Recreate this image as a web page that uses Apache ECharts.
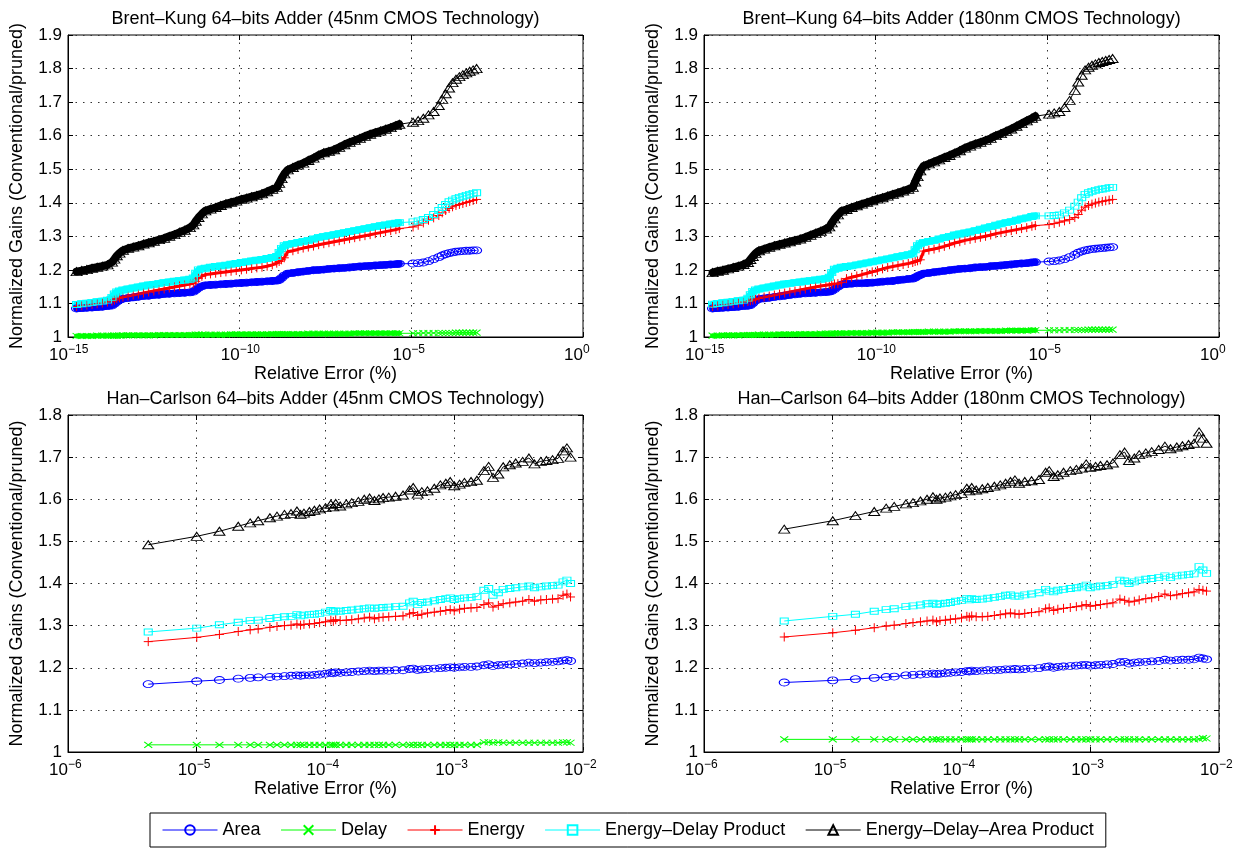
<!DOCTYPE html>
<html><head><meta charset="utf-8">
<script src="https://cdn.jsdelivr.net/npm/echarts@6/dist/echarts.min.js"></script>
<style>html,body{margin:0;padding:0;background:#fff}#c{width:1237px;height:850px}</style>
</head><body><div id="c"></div>
<script>
// ---------------- DATA ----------------
const seriesNames = ['Area', 'Delay', 'Energy', 'Energy\u2013Delay Product', 'Energy\u2013Delay\u2013Area Product'];
const panelTitles = [
  'Brent\u2013Kung 64\u2013bits Adder (45nm CMOS Technology)',
  'Brent\u2013Kung 64\u2013bits Adder (180nm CMOS Technology)',
  'Han\u2013Carlson 64\u2013bits Adder (45nm CMOS Technology)',
  'Han\u2013Carlson 64\u2013bits Adder (180nm CMOS Technology)'
];
const yAxisName = 'Normalized Gains (Conventional/pruned)';
const xAxisName = 'Relative Error (%)';

// Brent-Kung: log10 of relative error (%)
const bkErrLog10 = [-14.75,-14.6,-14.45,-14.3,-14.15,-14.0,-13.85,-13.72,-13.65,-13.58,
 -13.5,-13.4,-13.25,-13.1,-12.95,-12.8,-12.65,-12.5,-12.35,-12.2,
 -12.05,-11.9,-11.75,-11.6,-11.45,-11.35,-11.28,-11.2,-11.1,-11.0,
 -10.85,-10.7,-10.55,-10.4,-10.25,-10.1,-9.95,-9.8,-9.65,-9.5,
 -9.35,-9.2,-9.05,-8.92,-8.85,-8.78,-8.7,-8.6,-8.45,-8.3,
 -8.15,-8.0,-7.85,-7.7,-7.55,-7.4,-7.25,-7.1,-6.95,-6.8,
 -6.65,-6.5,-6.35,-6.2,-6.05,-5.9,-5.75,-5.6,-5.45,-5.35,
 -4.95,-4.8,-4.65,-4.5,-4.35,-4.2,-4.1,-4.0,-3.9,-3.8,
 -3.7,-3.6,-3.5,-3.4,-3.3,-3.2,-3.1];

const bk45Area = [1.085,1.086,1.087,1.088,1.089,1.090,1.092,1.094,1.099,1.105,
 1.110,1.114,1.116,1.118,1.120,1.122,1.123,1.125,1.126,1.128,
 1.129,1.130,1.131,1.132,1.133,1.135,1.140,1.146,1.151,1.154,
 1.155,1.156,1.157,1.158,1.159,1.160,1.161,1.162,1.163,1.164,
 1.165,1.166,1.167,1.168,1.170,1.176,1.183,1.189,1.191,1.193,
 1.195,1.197,1.199,1.200,1.201,1.203,1.204,1.205,1.206,1.207,
 1.209,1.210,1.211,1.212,1.213,1.214,1.215,1.216,1.217,1.218,
 1.219,1.220,1.222,1.226,1.232,1.238,1.243,1.247,1.250,1.252,
 1.254,1.255,1.256,1.257,1.257,1.258,1.258];
const bk45Delay = [1.003,1.003,1.003,1.003,1.004,1.004,1.004,1.004,1.004,1.004,
 1.004,1.005,1.005,1.005,1.005,1.005,1.005,1.005,1.006,1.006,
 1.006,1.006,1.006,1.006,1.006,1.006,1.007,1.007,1.007,1.007,
 1.007,1.007,1.007,1.007,1.008,1.008,1.008,1.008,1.008,1.008,
 1.008,1.008,1.009,1.009,1.009,1.009,1.009,1.009,1.009,1.009,
 1.009,1.010,1.010,1.010,1.010,1.010,1.010,1.010,1.010,1.010,
 1.011,1.011,1.011,1.011,1.011,1.011,1.011,1.011,1.011,1.011,
 1.011,1.011,1.012,1.012,1.012,1.012,1.012,1.012,1.012,1.012,
 1.013,1.013,1.013,1.013,1.013,1.013,1.013];
const bk45Energy = [1.091,1.093,1.095,1.097,1.099,1.101,1.104,1.107,1.110,1.114,
 1.117,1.119,1.122,1.125,1.128,1.131,1.134,1.137,1.140,1.143,
 1.146,1.149,1.152,1.155,1.158,1.160,1.166,1.175,1.181,1.186,
 1.188,1.190,1.192,1.194,1.196,1.198,1.200,1.202,1.204,1.206,
 1.208,1.211,1.215,1.220,1.225,1.230,1.236,1.254,1.257,1.261,
 1.265,1.268,1.271,1.275,1.278,1.281,1.284,1.287,1.290,1.293,
 1.296,1.299,1.302,1.305,1.308,1.311,1.314,1.317,1.320,1.323,
 1.328,1.333,1.340,1.348,1.355,1.362,1.370,1.377,1.383,1.388,
 1.392,1.395,1.398,1.401,1.404,1.407,1.410];
const bk45EDP = [1.097,1.099,1.101,1.103,1.105,1.107,1.110,1.118,1.128,1.134,
 1.137,1.140,1.143,1.146,1.149,1.152,1.155,1.157,1.160,1.162,
 1.164,1.166,1.168,1.170,1.172,1.176,1.190,1.200,1.203,1.205,
 1.208,1.210,1.212,1.214,1.217,1.219,1.222,1.224,1.227,1.229,
 1.231,1.234,1.237,1.240,1.252,1.264,1.272,1.276,1.279,1.282,
 1.285,1.288,1.292,1.297,1.300,1.302,1.305,1.308,1.311,1.314,
 1.317,1.320,1.323,1.326,1.329,1.332,1.334,1.337,1.339,1.341,
 1.343,1.346,1.350,1.356,1.365,1.377,1.386,1.395,1.403,1.408,
 1.412,1.416,1.419,1.422,1.425,1.428,1.430];
const bk45EDAP = [1.195,1.198,1.201,1.205,1.208,1.211,1.215,1.223,1.232,1.242,
 1.250,1.258,1.264,1.268,1.272,1.277,1.281,1.285,1.290,1.294,
 1.300,1.305,1.312,1.318,1.326,1.334,1.345,1.356,1.367,1.376,
 1.381,1.386,1.392,1.397,1.401,1.405,1.410,1.414,1.418,1.422,
 1.427,1.433,1.440,1.446,1.458,1.472,1.486,1.498,1.505,1.512,
 1.518,1.526,1.533,1.542,1.549,1.553,1.558,1.565,1.573,1.580,
 1.586,1.592,1.598,1.604,1.609,1.614,1.619,1.624,1.630,1.634,
 1.640,1.645,1.652,1.662,1.672,1.690,1.708,1.725,1.742,1.758,
 1.768,1.776,1.782,1.787,1.792,1.796,1.800];

const bk180Area = [1.085,1.086,1.087,1.088,1.089,1.090,1.092,1.093,1.095,1.101,
 1.108,1.113,1.115,1.117,1.119,1.121,1.123,1.125,1.127,1.129,
 1.130,1.131,1.132,1.133,1.134,1.135,1.137,1.142,1.150,1.156,
 1.158,1.159,1.160,1.160,1.161,1.162,1.163,1.165,1.166,1.167,
 1.169,1.171,1.173,1.174,1.177,1.181,1.185,1.189,1.191,1.193,
 1.195,1.197,1.199,1.201,1.203,1.204,1.205,1.207,1.208,1.209,
 1.211,1.212,1.213,1.215,1.216,1.218,1.219,1.220,1.222,1.223,
 1.225,1.226,1.228,1.232,1.238,1.245,1.251,1.255,1.258,1.260,
 1.262,1.263,1.264,1.265,1.266,1.267,1.268];
const bk180Delay = [1.004,1.004,1.005,1.005,1.005,1.005,1.006,1.006,1.006,1.006,
 1.006,1.007,1.007,1.007,1.007,1.008,1.008,1.008,1.008,1.009,
 1.009,1.009,1.009,1.010,1.010,1.010,1.010,1.011,1.011,1.011,
 1.011,1.012,1.012,1.012,1.012,1.013,1.013,1.013,1.013,1.014,
 1.014,1.014,1.014,1.015,1.015,1.015,1.015,1.015,1.016,1.016,
 1.016,1.016,1.016,1.017,1.017,1.017,1.017,1.017,1.018,1.018,
 1.018,1.018,1.018,1.019,1.019,1.019,1.019,1.019,1.020,1.020,
 1.020,1.020,1.020,1.021,1.021,1.021,1.021,1.021,1.021,1.022,
 1.022,1.022,1.022,1.022,1.022,1.022,1.022];
const bk180Energy = [1.091,1.093,1.095,1.097,1.099,1.101,1.104,1.106,1.108,1.110,
 1.113,1.116,1.119,1.122,1.125,1.128,1.131,1.134,1.137,1.140,
 1.143,1.146,1.149,1.152,1.154,1.156,1.157,1.158,1.159,1.163,
 1.174,1.178,1.182,1.186,1.190,1.194,1.198,1.203,1.207,1.210,
 1.213,1.216,1.219,1.222,1.225,1.227,1.230,1.256,1.259,1.262,
 1.266,1.270,1.275,1.280,1.284,1.288,1.291,1.294,1.297,1.300,
 1.304,1.308,1.311,1.314,1.317,1.320,1.323,1.326,1.330,1.332,
 1.335,1.338,1.342,1.346,1.350,1.356,1.365,1.378,1.387,1.392,
 1.396,1.399,1.402,1.404,1.406,1.408,1.410];
const bk180EDP = [1.098,1.100,1.102,1.104,1.106,1.108,1.110,1.116,1.126,1.136,
 1.140,1.143,1.146,1.149,1.152,1.155,1.158,1.160,1.162,1.164,
 1.166,1.168,1.170,1.172,1.174,1.178,1.192,1.202,1.205,1.208,
 1.210,1.212,1.215,1.218,1.221,1.224,1.227,1.230,1.233,1.236,
 1.239,1.242,1.245,1.248,1.260,1.272,1.278,1.282,1.285,1.288,
 1.292,1.296,1.300,1.304,1.307,1.310,1.313,1.317,1.321,1.325,
 1.329,1.333,1.337,1.341,1.344,1.348,1.352,1.355,1.359,1.361,
 1.361,1.362,1.364,1.370,1.378,1.390,1.402,1.415,1.425,1.430,
 1.434,1.437,1.439,1.441,1.443,1.445,1.446];
const bk180EDAP = [1.192,1.196,1.199,1.203,1.207,1.211,1.216,1.222,1.231,1.240,
 1.249,1.257,1.262,1.267,1.272,1.276,1.280,1.284,1.288,1.292,
 1.297,1.303,1.309,1.315,1.322,1.328,1.340,1.352,1.364,1.375,
 1.380,1.386,1.391,1.396,1.401,1.406,1.411,1.415,1.420,1.425,
 1.430,1.435,1.440,1.446,1.462,1.478,1.495,1.510,1.516,1.522,
 1.528,1.535,1.541,1.548,1.555,1.563,1.569,1.575,1.580,1.586,
 1.592,1.600,1.606,1.613,1.620,1.628,1.636,1.644,1.652,1.658,
 1.664,1.668,1.672,1.684,1.705,1.735,1.760,1.780,1.796,1.804,
 1.810,1.814,1.818,1.821,1.824,1.827,1.830];

// Han-Carlson: relative error (%)
const hcErr = [4.2e-6,1.0e-5,1.5e-5,2.1e-5,2.6e-5,3.0e-5,3.7e-5,4.2e-5,4.8e-5,5.4e-5,
 6.0e-5,6.4e-5,6.8e-5,7.5e-5,8.2e-5,9.0e-5,1.0e-4,1.1e-4,1.15e-4,1.2e-4,
 1.3e-4,1.45e-4,1.6e-4,1.8e-4,2.0e-4,2.2e-4,2.4e-4,2.6e-4,2.8e-4,3.1e-4,
 3.5e-4,4.0e-4,4.5e-4,4.8e-4,5.2e-4,5.6e-4,6.2e-4,7.0e-4,7.8e-4,8.6e-4,
 9.3e-4,1.0e-3,1.1e-3,1.2e-3,1.35e-3,1.5e-3,1.7e-3,1.85e-3,2.0e-3,2.2e-3,
 2.4e-3,2.7e-3,3.0e-3,3.4e-3,3.8e-3,4.2e-3,4.7e-3,5.2e-3,5.8e-3,6.4e-3,
 7.0e-3,7.5e-3,8.0e-3];

const hc45Area = [1.161,1.168,1.171,1.174,1.176,1.177,1.178,1.179,1.180,1.181,
 1.182,1.181,1.182,1.182,1.183,1.184,1.186,1.188,1.187,1.189,
 1.188,1.189,1.190,1.191,1.192,1.193,1.192,1.193,1.193,1.193,
 1.194,1.194,1.197,1.198,1.195,1.196,1.197,1.198,1.199,1.200,
 1.201,1.200,1.201,1.202,1.202,1.203,1.206,1.208,1.204,1.206,
 1.207,1.208,1.209,1.210,1.212,1.211,1.212,1.213,1.214,1.215,
 1.217,1.218,1.216];
const hc45Delay = [1.017,1.017,1.017,1.017,1.017,1.017,1.017,1.017,1.017,1.017,
 1.017,1.017,1.017,1.017,1.017,1.017,1.017,1.017,1.017,1.017,
 1.017,1.017,1.017,1.017,1.017,1.017,1.017,1.017,1.017,1.017,
 1.017,1.017,1.017,1.017,1.017,1.017,1.017,1.017,1.017,1.017,
 1.017,1.017,1.017,1.017,1.017,1.017,1.023,1.023,1.022,1.023,
 1.022,1.022,1.022,1.022,1.022,1.022,1.022,1.022,1.022,1.022,
 1.023,1.023,1.022];
const hc45Energy = [1.262,1.272,1.279,1.286,1.290,1.292,1.296,1.298,1.300,1.301,
 1.304,1.301,1.303,1.304,1.305,1.307,1.309,1.313,1.310,1.314,
 1.312,1.313,1.314,1.316,1.318,1.320,1.316,1.319,1.320,1.321,
 1.322,1.323,1.328,1.331,1.324,1.327,1.330,1.332,1.334,1.336,
 1.338,1.335,1.339,1.341,1.342,1.343,1.350,1.354,1.344,1.348,
 1.352,1.354,1.356,1.358,1.362,1.358,1.361,1.362,1.363,1.364,
 1.372,1.375,1.368];
const hc45EDP = [1.285,1.294,1.302,1.308,1.312,1.313,1.317,1.319,1.321,1.322,
 1.326,1.323,1.325,1.326,1.327,1.329,1.332,1.336,1.333,1.335,
 1.334,1.336,1.337,1.339,1.340,1.342,1.341,1.342,1.343,1.344,
 1.345,1.346,1.354,1.358,1.350,1.355,1.356,1.359,1.362,1.364,
 1.366,1.362,1.364,1.366,1.367,1.369,1.384,1.388,1.372,1.378,
 1.386,1.388,1.390,1.392,1.394,1.390,1.392,1.394,1.395,1.396,
 1.404,1.408,1.400];
const hc45EDAP = [1.492,1.512,1.524,1.536,1.544,1.549,1.556,1.560,1.564,1.566,
 1.572,1.564,1.567,1.571,1.574,1.577,1.580,1.588,1.582,1.590,
 1.584,1.589,1.592,1.595,1.600,1.603,1.597,1.601,1.604,1.605,
 1.607,1.610,1.622,1.628,1.612,1.618,1.620,1.626,1.634,1.638,
 1.642,1.632,1.636,1.640,1.642,1.645,1.668,1.678,1.652,1.660,
 1.677,1.682,1.686,1.690,1.698,1.684,1.690,1.692,1.694,1.697,
 1.715,1.722,1.700];

const hc180Area = [1.165,1.170,1.173,1.176,1.178,1.179,1.182,1.183,1.184,1.185,
 1.186,1.185,1.186,1.187,1.188,1.189,1.190,1.192,1.191,1.193,
 1.192,1.193,1.194,1.194,1.195,1.196,1.196,1.197,1.196,1.197,
 1.198,1.199,1.202,1.203,1.200,1.202,1.203,1.204,1.205,1.206,
 1.207,1.205,1.206,1.207,1.208,1.209,1.213,1.214,1.210,1.212,
 1.213,1.214,1.215,1.216,1.219,1.217,1.218,1.219,1.219,1.220,
 1.224,1.222,1.220];
const hc180Delay = [1.030,1.030,1.030,1.030,1.030,1.030,1.030,1.030,1.030,1.030,
 1.030,1.030,1.030,1.030,1.030,1.030,1.030,1.030,1.030,1.030,
 1.030,1.030,1.030,1.030,1.030,1.030,1.030,1.030,1.030,1.030,
 1.030,1.030,1.030,1.030,1.030,1.030,1.030,1.030,1.030,1.030,
 1.030,1.030,1.030,1.030,1.030,1.030,1.030,1.030,1.030,1.030,
 1.030,1.030,1.030,1.030,1.030,1.030,1.030,1.030,1.030,1.030,
 1.031,1.033,1.032];
const hc180Energy = [1.273,1.283,1.289,1.295,1.299,1.301,1.305,1.307,1.309,1.311,
 1.313,1.309,1.312,1.313,1.315,1.316,1.318,1.322,1.320,1.323,
 1.321,1.321,1.322,1.324,1.326,1.328,1.330,1.328,1.327,1.329,
 1.331,1.333,1.340,1.342,1.336,1.339,1.341,1.343,1.345,1.347,
 1.350,1.346,1.348,1.350,1.352,1.354,1.363,1.360,1.356,1.358,
 1.361,1.364,1.366,1.369,1.375,1.371,1.373,1.376,1.378,1.380,
 1.386,1.384,1.382];
const hc180EDP = [1.311,1.322,1.327,1.334,1.338,1.340,1.345,1.347,1.349,1.352,
 1.353,1.350,1.352,1.353,1.355,1.358,1.360,1.364,1.361,1.364,
 1.362,1.363,1.365,1.367,1.369,1.372,1.373,1.370,1.370,1.373,
 1.375,1.378,1.386,1.382,1.380,1.384,1.386,1.388,1.390,1.392,
 1.396,1.390,1.392,1.394,1.395,1.398,1.408,1.406,1.400,1.404,
 1.408,1.410,1.412,1.414,1.418,1.414,1.418,1.420,1.421,1.423,
 1.440,1.432,1.424];
const hc180EDAP = [1.529,1.549,1.561,1.571,1.579,1.583,1.589,1.592,1.596,1.600,
 1.606,1.600,1.603,1.605,1.608,1.611,1.614,1.626,1.620,1.628,
 1.622,1.625,1.628,1.631,1.634,1.638,1.642,1.646,1.638,1.642,
 1.644,1.647,1.664,1.668,1.654,1.658,1.664,1.668,1.671,1.674,
 1.684,1.676,1.678,1.680,1.682,1.686,1.706,1.712,1.692,1.698,
 1.706,1.710,1.713,1.718,1.726,1.720,1.724,1.727,1.730,1.733,
 1.760,1.745,1.733];

// minor grid positions of the Han-Carlson log axes
const minorDigits = [2,3,4,5,6,7,8,9];
const hcDecades = [1e-6,1e-5,1e-4,1e-3];

// ---------------- BUILD ----------------
const FONT = '"Liberation Sans", Arial, Helvetica, sans-serif';
const bkErr = bkErrLog10.map(e => Math.pow(10, e));
const BK_DENSE_END = 70; // points before the sparse 1e-5 gap are densely packed
const panels = [
  {x: bkErr, ys: [bk45Area, bk45Delay, bk45Energy, bk45EDP, bk45EDAP], xMin: 1e-15, xMax: 1, logBase: 1e5, yMax: 1.9, minor: false, dense: BK_DENSE_END},
  {x: bkErr, ys: [bk180Area, bk180Delay, bk180Energy, bk180EDP, bk180EDAP], xMin: 1e-15, xMax: 1, logBase: 1e5, yMax: 1.9, minor: false, dense: BK_DENSE_END},
  {x: hcErr, ys: [hc45Area, hc45Delay, hc45Energy, hc45EDP, hc45EDAP], xMin: 1e-6, xMax: 1e-2, logBase: 10, yMax: 1.8, minor: true, dense: 0},
  {x: hcErr, ys: [hc180Area, hc180Delay, hc180Energy, hc180EDP, hc180EDAP], xMin: 1e-6, xMax: 1e-2, logBase: 10, yMax: 1.8, minor: true, dense: 0}
];
const boxes = [
  {left: 68, top: 35, width: 515, height: 302},
  {left: 704, top: 35, width: 515, height: 302},
  {left: 68, top: 415, width: 515, height: 337},
  {left: 704, top: 415, width: 515, height: 337}
];
const styles = [
  {color: '#0000ff', symbol: 'circle', size: [10, 7], band: 7},
  {color: '#00ff00', symbol: 'path://M0,0L10,10M10,0L0,10', size: [8, 6], band: 5},
  {color: '#ff0000', symbol: 'path://M5,0L5,10M0,5L10,5', size: [9, 9], band: 3},
  {color: '#00ffff', symbol: 'rect', size: [8, 6], band: 7},
  {color: '#000000', symbol: 'triangle', size: [11, 8], band: 8}
];
const dotted = {color: '#333', type: [1.5, 6], width: 1};
const minorVals = [];
hcDecades.forEach(d => minorDigits.forEach(m => minorVals.push(m * d)));

const grid = [], xAxis = [], yAxis = [], series = [], title = [];
panels.forEach((p, g) => {
  const b = boxes[g];
  grid.push({left: b.left, top: b.top, width: b.width, height: b.height, containLabel: false,
    outerBoundsMode: 'none', show: true, borderColor: '#000', borderWidth: 1, backgroundColor: 'rgba(0,0,0,0)'});
  title.push({text: panelTitles[g], left: b.left + b.width / 2, top: b.top - 25, textAlign: 'center', padding: 0,
    textStyle: {fontSize: 18, fontWeight: 'normal', color: '#000', fontFamily: FONT}});
  const common = {type: 'log', gridIndex: g, logBase: p.logBase, min: p.xMin, max: p.xMax};
  xAxis.push(Object.assign({}, common, {position: 'bottom',
    axisLine: {show: true, onZero: false, lineStyle: {color: '#000', width: 1}},
    axisTick: {show: true, inside: true, length: 5, lineStyle: {color: '#000'}},
    axisLabel: {show: true, formatter: () => '10', align: 'right', margin: 10, fontSize: 17, color: '#000',
      fontFamily: FONT, showMinLabel: true, showMaxLabel: true},
    splitLine: {show: true, lineStyle: dotted},
    name: xAxisName, nameLocation: 'middle', nameGap: 28,
    nameTextStyle: {fontSize: 18, color: '#000', fontFamily: FONT}}));
  xAxis.push(Object.assign({}, common, {position: 'bottom',
    axisLine: {show: false}, axisTick: {show: false}, splitLine: {show: false},
    axisLabel: {show: true, align: 'left', margin: 7, fontSize: 12, color: '#000', fontFamily: FONT,
      showMinLabel: true, showMaxLabel: true,
      formatter: v => { const e = Math.round(Math.log10(v)); return e < 0 ? '\u2212' + (-e) : String(e); }}}));
  xAxis.push(Object.assign({}, common, {position: 'top',
    axisLine: {show: false}, axisTick: {show: true, inside: true, length: 5, lineStyle: {color: '#000'}},
    axisLabel: {show: false}, splitLine: {show: false}}));
  const ycommon = {type: 'value', gridIndex: g, min: 1, max: p.yMax, interval: 0.1};
  yAxis.push(Object.assign({}, ycommon, {position: 'left',
    axisLine: {show: true, onZero: false, lineStyle: {color: '#000', width: 1}},
    axisTick: {show: true, inside: true, length: 5, lineStyle: {color: '#000'}},
    axisLabel: {formatter: v => String(Math.round(v * 10) / 10), margin: 6, fontSize: 17, color: '#000', fontFamily: FONT},
    splitLine: {show: true, lineStyle: dotted},
    name: yAxisName, nameLocation: 'middle', nameGap: 42,
    nameTextStyle: {fontSize: 18, color: '#000', fontFamily: FONT}}));
  yAxis.push(Object.assign({}, ycommon, {position: 'right',
    axisLine: {show: false}, axisTick: {show: true, inside: true, length: 5, lineStyle: {color: '#000'}},
    axisLabel: {show: false}, splitLine: {show: false}}));
  if (p.minor) {
    series.push({type: 'line', name: 'minorgrid' + g, xAxisIndex: g * 3, yAxisIndex: g * 2, data: [], silent: true,
      markLine: {silent: true, symbol: ['none', 'none'], label: {show: false}, animation: false,
        lineStyle: dotted, emphasis: {disabled: true}, data: minorVals.map(v => ({xAxis: v}))}});
  }
  p.ys.forEach((ys, k) => {
    const s = styles[k];
    const pts = ys.map((y, i) => [p.x[i], y]);
    series.push({type: 'line', name: seriesNames[k], xAxisIndex: g * 3, yAxisIndex: g * 2,
      data: pts,
      symbol: s.symbol, symbolSize: s.size, showSymbol: true, showAllSymbol: true,
      lineStyle: {color: s.color, width: 1},
      itemStyle: {color: 'rgba(0,0,0,0)', borderColor: s.color, borderWidth: 1},
      emphasis: {disabled: true}, silent: true, clip: true, animation: false});
    if (p.dense) {
      // the densely packed markers of the reference merge into a solid band
      series.push({type: 'line', name: seriesNames[k], xAxisIndex: g * 3, yAxisIndex: g * 2,
        data: pts.slice(0, p.dense), symbol: 'none', showSymbol: false,
        lineStyle: {color: s.color, width: s.band, cap: 'round', join: 'round'},
        itemStyle: {color: 'rgba(0,0,0,0)', borderColor: s.color, borderWidth: 1},
        emphasis: {disabled: true}, silent: true, clip: true, animation: false});
    }
  });
});

const chart = echarts.init(document.getElementById('c'), null, {renderer: 'canvas'});
chart.setOption({
  animation: false,
  backgroundColor: '#fff',
  textStyle: {fontFamily: FONT},
  title, grid, xAxis, yAxis, series,
  legend: {data: seriesNames, left: 150, top: 813, orient: 'horizontal', itemGap: 20, itemWidth: 55, itemHeight: 12,
    padding: [8, 12, 8, 12], borderColor: '#000', borderWidth: 1, backgroundColor: '#fff', selectedMode: false,
    lineStyle: {width: 1}, textStyle: {fontSize: 18, color: '#000', fontFamily: FONT}}
});
</script></body></html>
